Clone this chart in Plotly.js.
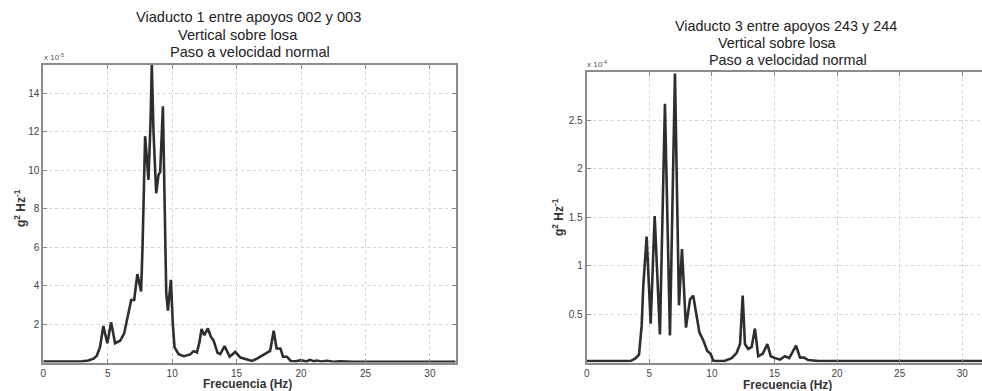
<!DOCTYPE html>
<html>
<head>
<meta charset="utf-8">
<script src="https://cdn.plot.ly/plotly-3.0.1.min.js"></script>
<style>
html,body{margin:0;padding:0;overflow:hidden;background:#fff;width:982px;height:391px;}
#chart{width:992px;height:391px;}
</style>
</head>
<body>
<div id="chart"></div>
<script>
// ---- Data ----
// Left: Viaducto 1 (values x 1e-5 g^2/Hz)
const freq1 = [0, 1, 2, 3, 3.5, 3.9, 4.15, 4.4, 4.66, 4.97, 5.26, 5.57, 5.96, 6.27, 6.6, 6.82, 7.05, 7.3, 7.59, 7.7, 7.9, 8.05, 8.16, 8.32, 8.42, 8.55, 8.76, 8.94, 9.07, 9.28, 9.42, 9.54, 9.67, 9.9, 10.05, 10.18, 10.5, 10.9, 11.4, 11.66, 11.92, 12.12, 12.28, 12.49, 12.77, 13.0, 13.2, 13.52, 13.73, 14.07, 14.46, 14.9, 15.29, 15.8, 16.2, 16.58, 17.1, 17.6, 17.88, 18.1, 18.4, 18.6, 18.9, 19.2, 19.6, 20, 20.4, 20.7, 21.0, 21.2, 21.6, 22, 22.5, 23, 24, 25, 26, 28, 30, 32];
const psd1 = [0.05, 0.05, 0.05, 0.06, 0.1, 0.2, 0.35, 0.8, 1.9, 1.0, 2.1, 1.0, 1.13, 1.5, 2.55, 3.25, 3.25, 4.6, 3.7, 6.0, 11.77, 10.5, 9.5, 12.5, 15.5, 12.0, 8.8, 9.77, 9.9, 13.33, 9.0, 3.6, 2.7, 4.3, 2.0, 0.8, 0.43, 0.33, 0.42, 0.59, 0.52, 1.07, 1.74, 1.42, 1.77, 1.34, 1.16, 0.5, 0.44, 0.85, 0.3, 0.55, 0.26, 0.17, 0.08, 0.2, 0.42, 0.6, 1.65, 0.73, 0.73, 0.3, 0.3, 0.08, 0.06, 0.12, 0.05, 0.14, 0.06, 0.1, 0.05, 0.09, 0.04, 0.06, 0.04, 0.03, 0.05, 0.03, 0.03, 0.03];

// Right: Viaducto 3 (values x 1e-4 g^2/Hz)
const freq2 = [0, 1, 2, 2.3, 3, 3.5, 3.86, 4.18, 4.39, 4.52, 4.79, 5.11, 5.43, 5.85, 6.25, 6.65, 7.05, 7.37, 7.61, 7.93, 8.25, 8.51, 8.73, 9.0, 9.31, 9.63, 9.9, 10.1, 10.3, 11, 11.58, 11.98, 12.25, 12.46, 12.64, 12.9, 13.18, 13.44, 13.7, 14.06, 14.43, 14.7, 15.04, 15.44, 15.84, 16.18, 16.72, 17.04, 17.36, 17.7, 18.5, 20, 23, 23.3, 25, 28, 32];
const psd2 = [0.015, 0.015, 0.015, 0.02, 0.015, 0.015, 0.04, 0.08, 0.38, 0.79, 1.30, 0.40, 1.51, 0.29, 2.67, 0.28, 2.98, 0.59, 1.17, 0.36, 0.65, 0.69, 0.52, 0.31, 0.23, 0.12, 0.09, 0.02, 0.015, 0.015, 0.045, 0.1, 0.19, 0.69, 0.19, 0.14, 0.16, 0.35, 0.065, 0.09, 0.19, 0.065, 0.045, 0.03, 0.065, 0.045, 0.175, 0.05, 0.05, 0.025, 0.015, 0.015, 0.015, 0.02, 0.015, 0.015, 0.015];

const xTicks = [0, 5, 10, 15, 20, 25, 30];
const yTicks1 = [2, 4, 6, 8, 10, 12, 14];
const yTicks2 = [0.5, 1, 1.5, 2, 2.5];

const title1 = ["Viaducto 1 entre apoyos 002 y 003", "Vertical sobre losa", "Paso a velocidad normal"];
const title2 = ["Viaducto 3 entre apoyos 243 y 244", "Vertical sobre losa", "Paso a velocidad normal"];
const xLabel = "Frecuencia (Hz)";
const yLabel = "g<sup>2</sup> Hz<sup>-1</sup>";
const exp1 = "x 10<sup>-5</sup>";
const exp2 = "x 10<sup>-4</sup>";

// ---- Layout ----
const W = 992, H = 391;
const FONT = "Liberation Sans, Arial, sans-serif";
const lineStyle = {color: '#2e2e2e', width: 2.6};

function axisX(domain, anchor) {
  return {
    domain: domain, anchor: anchor, range: [0, 32], tickvals: xTicks,
    ticks: 'inside', ticklen: 4, tickcolor: '#888', mirror: 'ticks',
    showline: true, linecolor: '#8c8c8c', linewidth: 2,
    showgrid: true, gridcolor: '#d4d4d4', griddash: 'dot', gridwidth: 1,
    zeroline: false, tickfont: {family: FONT, size: 10, color: '#444'}, fixedrange: true
  };
}
function axisY(domain, anchor, range, tv) {
  return {
    domain: domain, anchor: anchor, range: range, tickvals: tv,
    ticks: 'inside', ticklen: 4, tickcolor: '#888', mirror: 'ticks',
    showline: true, linecolor: '#8c8c8c', linewidth: 2,
    showgrid: true, gridcolor: '#d4d4d4', griddash: 'dot', gridwidth: 1,
    zeroline: false, tickfont: {family: FONT, size: 10, color: '#444'}, fixedrange: true
  };
}
const px = v => v / W;
const py = v => 1 - v / H;

const L = {x0: 43.3, x1: 455.7, top: 64.5, bot: 362.5};
const R = {x0: 586.7, x1: 987.3, top: 71.7, bot: 362.5};

const traces = [
  {x: freq1, y: psd1, type: 'scatter', mode: 'lines', line: lineStyle, xaxis: 'x', yaxis: 'y', hoverinfo: 'skip'},
  {x: freq2, y: psd2, type: 'scatter', mode: 'lines', line: lineStyle, xaxis: 'x2', yaxis: 'y2', hoverinfo: 'skip'}
];

function ann(text, x, y, size, opts) {
  return Object.assign({text: text, x: px(x), y: py(y), xref: 'paper', yref: 'paper',
    showarrow: false, xanchor: 'center', yanchor: 'middle',
    font: {family: FONT, size: size, color: '#222'}}, opts || {});
}
const boldLbl = {family: FONT, size: 12, color: '#333', weight: 'bold'};

const annotations = [
  ann(title1[0], 248, 17, 14.6),
  ann(title1[1], 238, 34.5, 14.6),
  ann(title1[2], 250, 52, 14.6),
  ann(title2[0], 786, 26, 14.4),
  ann(title2[1], 776.5, 43, 14.4),
  ann(title2[2], 788, 60, 14.4),
  ann(xLabel, 247, 384, 12, {font: boldLbl}),
  ann(xLabel, 787, 385, 12, {font: boldLbl}),
  ann(yLabel, 20, 208, 12, {textangle: -90, font: boldLbl}),
  ann(yLabel, 558, 217, 12, {textangle: -90, font: boldLbl}),
  ann(exp1, 42, 57, 8, {xanchor: 'left', font: {family: FONT, size: 8, color: '#555'}}),
  ann(exp2, 585, 64, 8, {xanchor: 'left', font: {family: FONT, size: 8, color: '#555'}})
];

const layout = {
  width: W, height: H, margin: {l: 0, r: 0, t: 0, b: 0},
  paper_bgcolor: '#fff', plot_bgcolor: '#fff', showlegend: false,
  xaxis: axisX([px(L.x0), px(L.x1)], 'y'),
  yaxis: axisY([py(L.bot), py(L.top)], 'x', [0, 15.5], yTicks1),
  xaxis2: axisX([px(R.x0), px(R.x1)], 'y2'),
  yaxis2: axisY([py(R.bot), py(R.top)], 'x2', [0, 3.0], yTicks2),
  annotations: annotations
};

Plotly.newPlot('chart', traces, layout, {staticPlot: true, displayModeBar: false});
</script>
</body>
</html>
